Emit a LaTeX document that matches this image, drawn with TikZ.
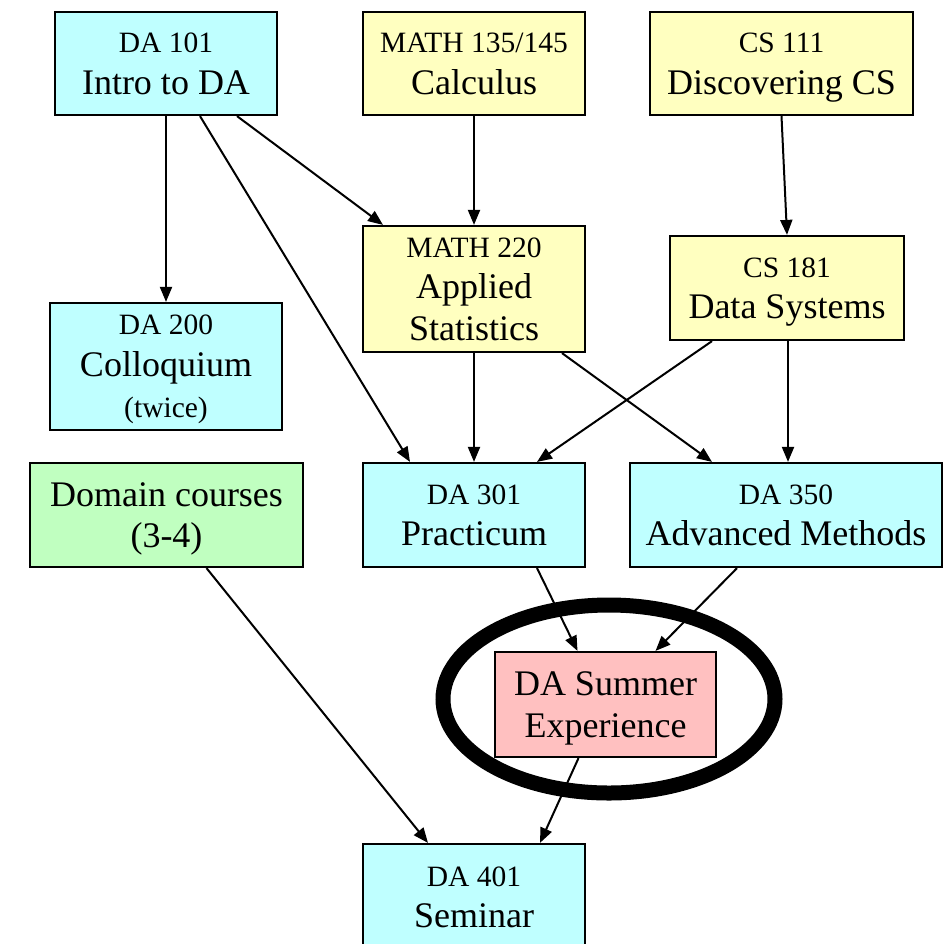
\documentclass[tikz,border=0pt]{standalone}
\usepackage{fontspec}
\setmainfont{Liberation Serif}
\usetikzlibrary{arrows.meta,shapes.geometric}
\definecolor{cyanbox}{HTML}{BFFFFF}
\definecolor{yellowbox}{HTML}{FFFFC0}
\definecolor{greenbox}{HTML}{C0FFC0}
\definecolor{pinkbox}{HTML}{FFC0C0}
\newcommand{\smtxt}{\fontsize{29.5}{40}\selectfont}
\newcommand{\lgtxt}{\fontsize{36}{41.5}\selectfont}
\tikzset{
  box/.style={draw, line width=2.2pt, align=center, inner sep=0pt, text depth=0pt, font=\lgtxt},
  arr/.style={line width=2pt, -{Triangle[length=15pt,width=12pt]}}
}
\begin{document}
\begin{tikzpicture}[x=1pt,y=-1pt]
\useasboundingbox (0,0) rectangle (952,943);
\node[box, fill=cyanbox, minimum width=222pt, minimum height=103pt] (da101) at (166,63.5) {{\smtxt DA 101}\\Intro to DA};
\node[box, fill=yellowbox, minimum width=222pt, minimum height=103pt] (m135) at (474,63.5) {{\smtxt MATH 135/145}\\Calculus};
\node[box, fill=yellowbox, minimum width=263pt, minimum height=103pt] (cs111) at (781.5,63.5) {{\smtxt CS 111}\\Discovering CS};
\node[box, fill=yellowbox, minimum width=222pt, minimum height=126pt] (m220) at (474,289) {{\smtxt MATH 220}\\Applied\\Statistics};
\node[box, fill=yellowbox, minimum width=234pt, minimum height=104pt] (cs181) at (787,288) {{\smtxt CS 181}\\Data Systems};
\node[box, fill=cyanbox, minimum width=232pt, minimum height=127pt] (da200) at (166,366.5) {{\smtxt DA 200}\\Colloquium\\{\smtxt (twice)}};
\node[box, fill=greenbox, minimum width=273pt, minimum height=104pt] (dom) at (166.5,515) {Domain courses\\(3-4)};
\node[box, fill=cyanbox, minimum width=222pt, minimum height=104pt] (da301) at (474,515) {{\smtxt DA 301}\\Practicum};
\node[box, fill=cyanbox, minimum width=312pt, minimum height=104pt] (da350) at (786,515) {{\smtxt DA 350}\\Advanced Methods};
\node[box, fill=pinkbox, minimum width=221pt, minimum height=105pt] (sum) at (605.5,704.5) {DA Summer\\Experience};
\node[box, fill=cyanbox, minimum width=222pt, minimum height=106pt] (da401) at (474,897) {{\smtxt DA 401}\\Seminar};
\node[draw, line width=15pt, ellipse, minimum width=332pt, minimum height=188pt, inner sep=0pt] (ring) at (609,699) {};
\draw[arr] (da101.south) -- (da200.north);
\draw[arr] ([xshift=34pt]da101.south) -- ([xshift=-64pt]da301.north);
\draw[arr] ([xshift=71pt]da101.south) -- ([xshift=-91pt]m220.north);
\draw[arr] (m135.south) -- (m220.north);
\draw[arr] (cs111.south) -- (cs181.north);
\draw[arr] (m220.south) -- (da301.north);
\draw[arr] ([xshift=88pt]m220.south) -- ([xshift=-74pt]da350.north);
\draw[arr] ([xshift=-75pt]cs181.south) -- ([xshift=63pt]da301.north);
\draw[arr] ([xshift=1pt]cs181.south) -- ([xshift=2pt]da350.north);
\draw[arr] ([xshift=40pt]dom.south) -- ([xshift=-46pt]da401.north);
\draw[arr] ([xshift=63pt]da301.south) -- ([xshift=-28pt]sum.north);
\draw[arr] ([xshift=-49pt]da350.south) -- ([xshift=50pt]sum.north);
\draw[arr] ([xshift=-27pt]sum.south) -- ([xshift=66pt]da401.north);
\end{tikzpicture}
\end{document}
